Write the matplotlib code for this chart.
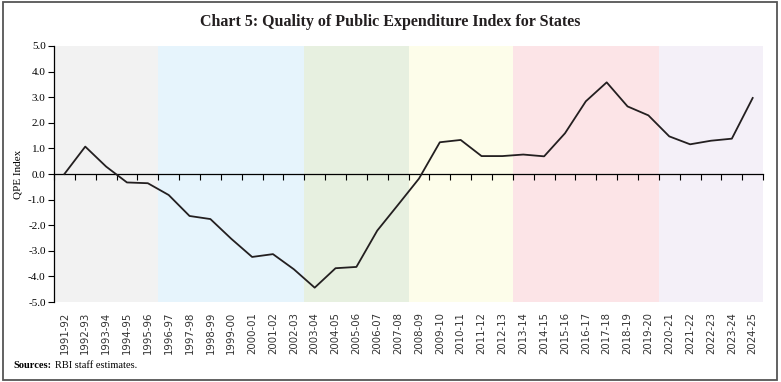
import numpy as np
import matplotlib
matplotlib.use("Agg")
import matplotlib.pyplot as plt
from matplotlib.patches import Rectangle

# ── Data ────────────────────────────────────────────────────────────────────
years = [
    "1991-92", "1992-93", "1993-94", "1994-95", "1995-96", "1996-97",
    "1997-98", "1998-99", "1999-00", "2000-01", "2001-02", "2002-03",
    "2003-04", "2004-05", "2005-06", "2006-07", "2007-08", "2008-09",
    "2009-10", "2010-11", "2011-12", "2012-13", "2013-14", "2014-15",
    "2015-16", "2016-17", "2017-18", "2018-19", "2019-20", "2020-21",
    "2021-22", "2022-23", "2023-24", "2024-25",
]
qpe = [
    0.0, 1.07, 0.29, -0.33, -0.36, -0.82,
    -1.64, -1.76, -2.53, -3.24, -3.13, -3.72,
    -4.44, -3.68, -3.63, -2.21, -1.2, -0.18,
    1.24, 1.33, 0.70, 0.70, 0.76, 0.69,
    1.59, 2.84, 3.58, 2.64, 2.29, 1.47,
    1.16, 1.30, 1.38, 2.97,
]
# shaded periods: number of years in each block
band_sizes = [5, 7, 5, 5, 7, 5]
band_colors = ["#F2F2F2", "#E6F4FC", "#E7F0E0", "#FDFDEA", "#FCE4E7", "#F4F0F8"]

serif = "Liberation Serif"

# ── Figure ──────────────────────────────────────────────────────────────────
fig = plt.figure(figsize=(7.81, 3.82), dpi=100)
ax = fig.add_axes([0.0691, 0.2094, 0.908, 0.6702])

# zero axis: top spine moved to y=0 (do this before styling ticks,
# moving a spine resets the shared x-axis tick styling)
ax.spines["top"].set_position(("data", 0))
ax.spines["top"].set_linewidth(0.9)
ax.spines["bottom"].set_visible(False)
ax.spines["right"].set_visible(False)
ax.spines["left"].set_linewidth(0.9)

x = np.arange(len(years))
start = -0.5
for size, col in zip(band_sizes, band_colors):
    ax.axvspan(start, start + size, color=col, lw=0, zorder=0)
    start += size

ax.plot(x, qpe, color="#231F20", lw=1.3, zorder=3)

ax.set_xlim(-0.5, len(years) - 0.5)
ax.set_ylim(-5, 5)
yt = np.arange(-5, 5.1, 1)
ax.set_yticks(yt)
ax.set_yticklabels([f"{v:.1f}" for v in yt], fontfamily=serif, fontsize=8)
ax.tick_params(axis="y", direction="out", length=4, width=0.8, pad=2)

# category labels at the bottom (major), boundary ticks on the zero axis (minor)
ax.set_xticks(x)
ax.set_xticklabels(years, rotation=90, fontsize=7.3, color="#333333")
ax.set_xticks(np.arange(-0.5, len(years), 1), minor=True)
ax.tick_params(axis="x", which="major", bottom=True, top=False, length=0, pad=7)
ax.tick_params(axis="x", which="minor", bottom=False, top=True,
               direction="in", length=4, width=0.8)

ax.set_ylabel("QPE Index", fontfamily=serif, fontsize=8, labelpad=4)

# ── Title, source, frame ───────────────────────────────────────────────────
fig.text(0.5, 0.942, "Chart 5: Quality of Public Expenditure Index for States",
         ha="center", va="center", fontfamily=serif, fontweight="bold",
         fontsize=11.5, color="#231F20")
fig.text(0.017, 0.042, "Sources:", ha="left", va="center",
         fontfamily=serif, fontweight="bold", fontsize=7.5)
fig.text(0.071, 0.042, "RBI staff estimates.", ha="left", va="center",
         fontfamily=serif, fontsize=7.5)

fig.patches.append(Rectangle((0.004, 0.006), 0.991, 0.988,
                             transform=fig.transFigure, fill=False,
                             edgecolor="#555555", lw=1.3))

fig.savefig("out.png", dpi=100)
